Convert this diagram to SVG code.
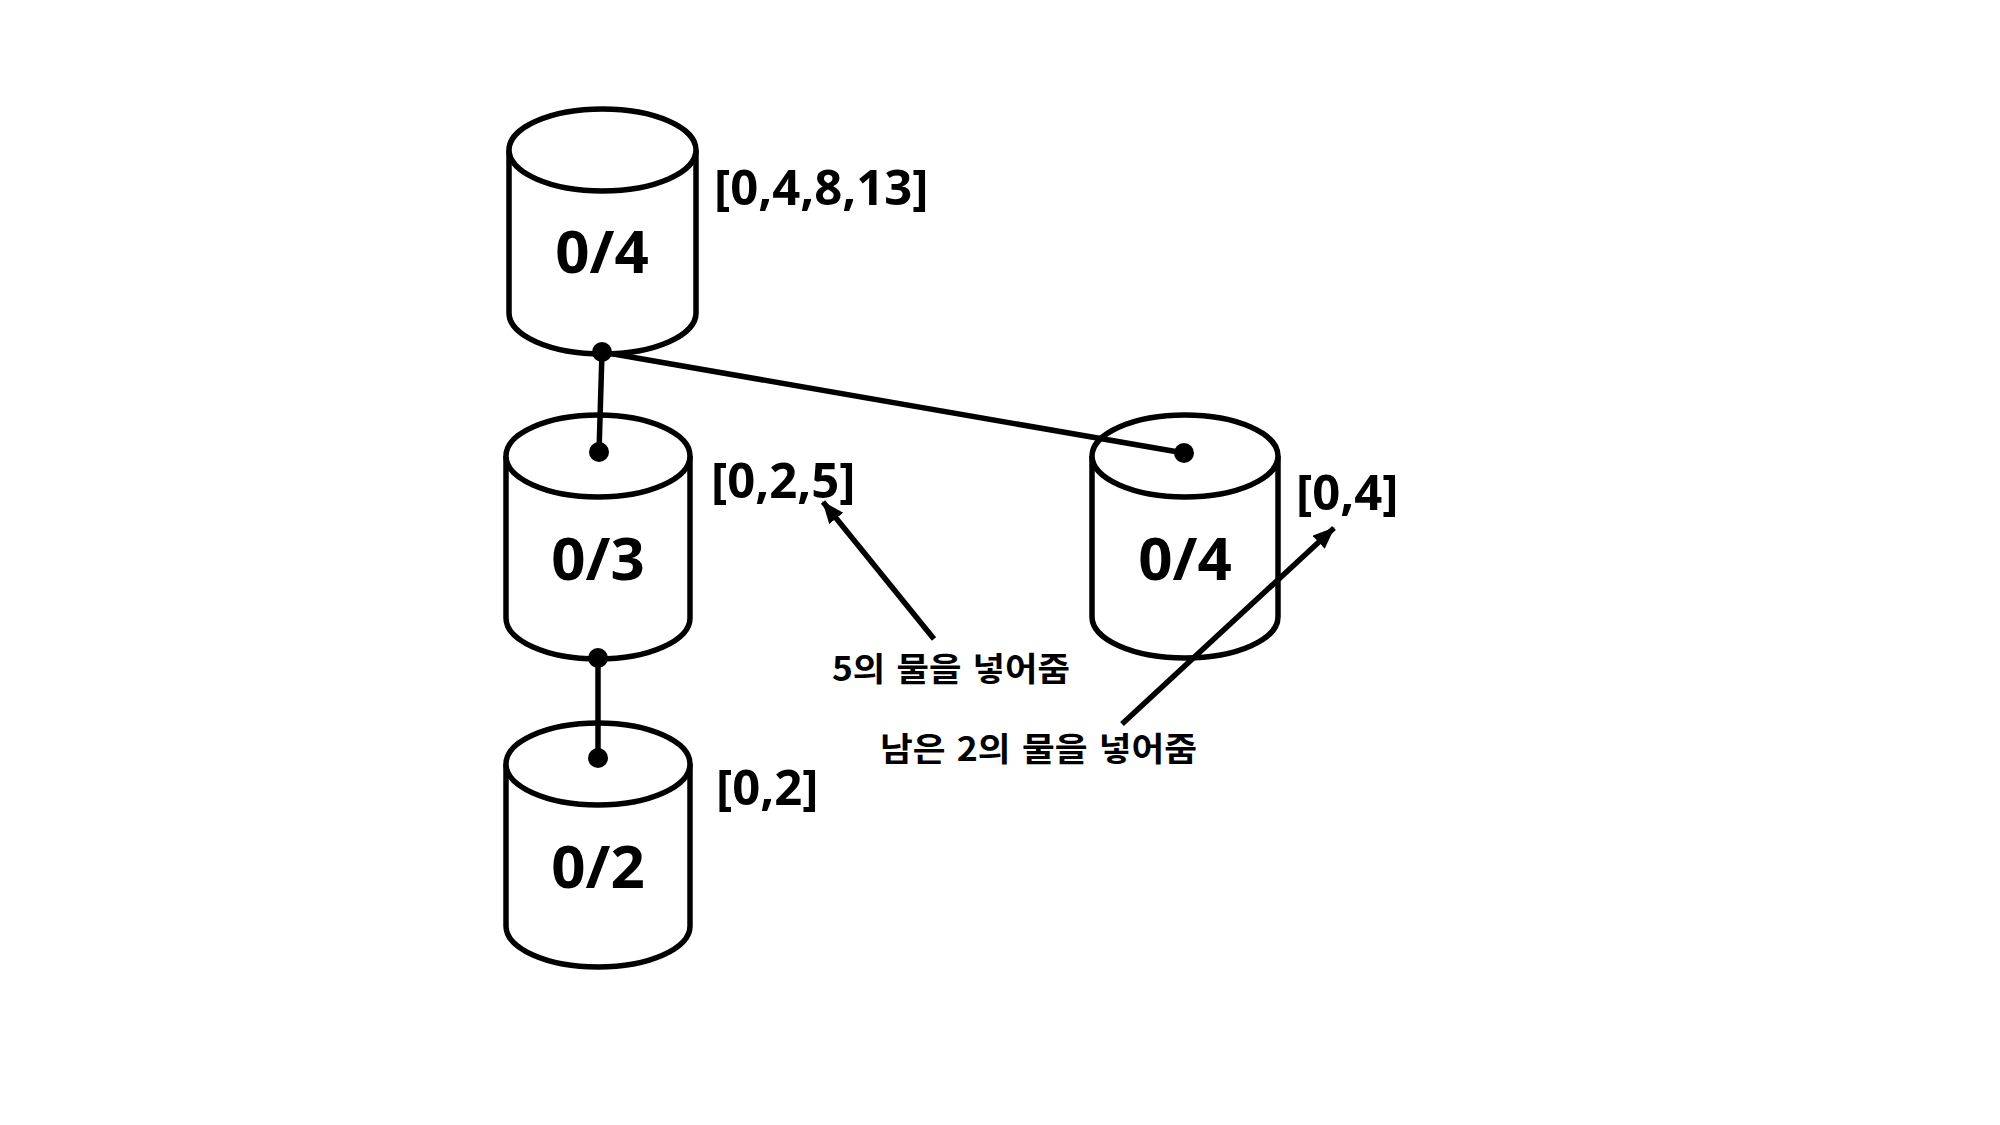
<svg xmlns="http://www.w3.org/2000/svg" width="2000" height="1125" viewBox="0 0 2000 1125">
<style>
.cyl{fill:#fff;stroke:#000;stroke-width:5.5}
.lbl{font-family:"Noto Sans","Noto Sans CJK KR",sans-serif;font-weight:bold;font-size:60px;text-anchor:middle;fill:#000}
.arr{font-family:"Noto Sans","Noto Sans CJK KR",sans-serif;font-weight:bold;font-size:49px;fill:#000}
.note{font-family:"Noto Sans CJK KR","Noto Sans",sans-serif;font-weight:bold;font-size:33px;word-spacing:3px;fill:#000}
.edge{stroke:#000;stroke-width:5.5;fill:none}
</style>
<defs>
<marker id="ah" markerUnits="userSpaceOnUse" markerWidth="24" markerHeight="20" refX="21" refY="9" orient="auto">
<path d="M0,0 L22,9 L0,18 Z" fill="#000"/>
</marker>
</defs>
<rect width="2000" height="1125" fill="#fff"/>
<g id="node-top">
<path class="cyl" d="M509,150 A93.5,41 0 0 1 696,150 L696,313 A93.5,41 0 0 1 509,313 Z"/>
<path class="cyl" d="M509,150 A93.5,41 0 0 0 696,150" fill="none"/>
<text class="lbl" x="602" y="273">0/4</text>
<text class="arr" x="714" y="205">[0,4,8,13]</text>
</g>
<g id="node-mid">
<path class="cyl" d="M506,456 A92,41 0 0 1 690,456 L690,618 A92,41 0 0 1 506,618 Z"/>
<path class="cyl" d="M506,456 A92,41 0 0 0 690,456" fill="none"/>
<text class="lbl" x="598" y="580">0/3</text>
<text class="arr" x="711" y="498">[0,2,5]</text>
</g>
<g id="node-low">
<path class="cyl" d="M506,764 A92,41 0 0 1 690,764 L690,926 A92,41 0 0 1 506,926 Z"/>
<path class="cyl" d="M506,764 A92,41 0 0 0 690,764" fill="none"/>
<text class="lbl" x="598" y="888">0/2</text>
<text class="arr" x="716" y="805">[0,2]</text>
</g>
<g id="node-right">
<path class="cyl" d="M1092,456 A93,41 0 0 1 1278,456 L1278,617 A93,41 0 0 1 1092,617 Z"/>
<path class="cyl" d="M1092,456 A93,41 0 0 0 1278,456" fill="none"/>
<text class="lbl" x="1185" y="580">0/4</text>
<text class="arr" x="1296" y="510">[0,4]</text>
</g>
<g id="connectors">
<line class="edge" x1="602" y1="352" x2="599" y2="452"/>
<line class="edge" x1="602" y1="352" x2="1184" y2="453"/>
<line class="edge" x1="598" y1="658" x2="598" y2="758"/>
<circle cx="602" cy="352" r="10"/>
<circle cx="599" cy="452" r="10"/>
<circle cx="1184" cy="453" r="10"/>
<circle cx="598" cy="658" r="10"/>
<circle cx="598" cy="758" r="10"/>
<line class="edge" x1="934" y1="639" x2="823" y2="502" marker-end="url(#ah)"/>
<line class="edge" x1="1122" y1="724" x2="1334" y2="528" marker-end="url(#ah)"/>
</g>
<g id="notes">
<text class="note" x="832" y="681" textLength="238" lengthAdjust="spacingAndGlyphs">5의 물을 넣어줌</text>
<text class="note" x="880" y="761" textLength="317" lengthAdjust="spacingAndGlyphs">남은 2의 물을 넣어줌</text>
</g>
</svg>
